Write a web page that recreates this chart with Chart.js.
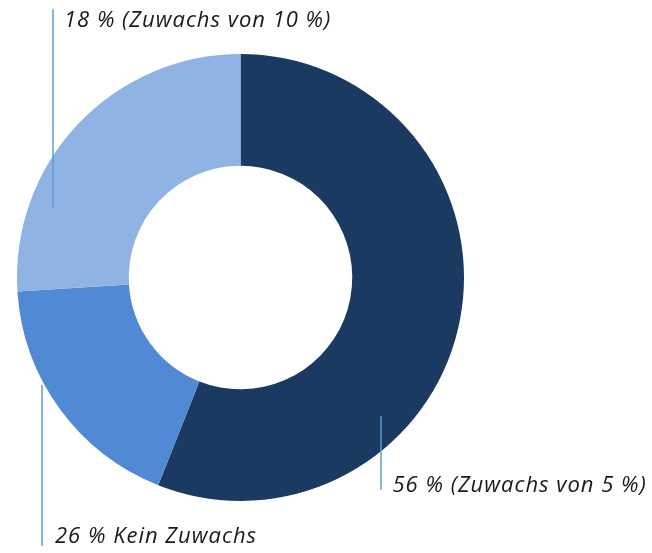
<!DOCTYPE html>
<html>
<head>
<meta charset="utf-8">
<script src="https://cdn.jsdelivr.net/npm/chart.js@4/dist/chart.umd.min.js"></script>
<style>
  html, body { margin: 0; padding: 0; background: #fff; }
  #wrap { width: 652px; height: 553px; }
</style>
</head>
<body>
<div id="wrap"><canvas id="donut" width="652" height="553"></canvas></div>
<script>
// segment values as drawn (clockwise from 12 o'clock)
const segments = ["dunkel", "mittel", "hell"];
const segmentValues = [56, 18, 26];
const segmentColors = ["#1b3a62", "#508ad4", "#8fb3e2"];

// label texts as printed next to the ring
const labelTexts = ["56 % (Zuwachs von 5 %)", "26 % Kein Zuwachs", "18 % (Zuwachs von 10 %)"];

// leader line + text placement, relative to ring centre (in units of outer radius)
const calloutPos = [
  { lx: 0.63, y0: 0.62, y1: 0.95, tx: 0.68, ty: 0.93 },
  { lx: -0.887, y0: 0.48, y1: 1.2, tx: -0.83, ty: 1.16 },
  { lx: -0.838, y0: -1.2, y1: -0.31, tx: -0.79, ty: -1.15 }
];

const callouts = {
  id: "callouts",
  afterDraw(chart) {
    const ctx = chart.ctx;
    const arc = chart.getDatasetMeta(0).data[0];
    const cx = arc.x, cy = arc.y, r = arc.outerRadius;
    ctx.save();
    ctx.strokeStyle = "#5b9bd5";
    ctx.lineWidth = 1.5;
    ctx.fillStyle = "#1a1a1a";
    ctx.font = "italic 22px 'Open Sans', sans-serif";
    ctx.letterSpacing = "1px";
    ctx.textBaseline = "middle";
    labelTexts.forEach((t, i) => {
      const p = calloutPos[i];
      const x = Math.round(cx + p.lx * r);
      ctx.beginPath();
      ctx.moveTo(x, cy + p.y0 * r);
      ctx.lineTo(x, cy + p.y1 * r);
      ctx.stroke();
      ctx.fillText(t, cx + p.tx * r, cy + p.ty * r);
    });
    ctx.restore();
  }
};

new Chart(document.getElementById("donut"), {
  type: "doughnut",
  data: {
    labels: segments,
    datasets: [{
      data: segmentValues,
      backgroundColor: segmentColors,
      borderWidth: 0
    }]
  },
  options: {
    responsive: false,
    animation: false,
    cutout: "50%",
    layout: { padding: { top: 54, bottom: 52, left: 17, right: 188 } },
    plugins: {
      legend: { display: false },
      tooltip: { enabled: false }
    }
  },
  plugins: [callouts]
});
</script>
</body>
</html>
